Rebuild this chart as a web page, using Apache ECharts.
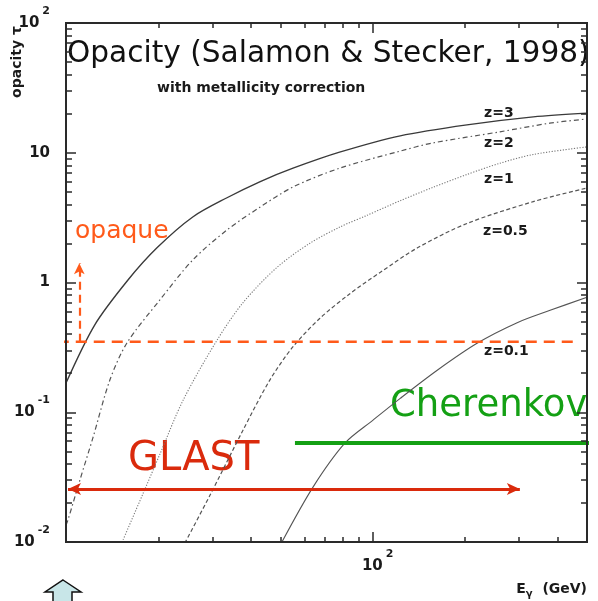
<!DOCTYPE html>
<html><head><meta charset="utf-8">
<script src="https://cdn.jsdelivr.net/npm/echarts@6/dist/echarts.min.js"></script>
<style>html,body{margin:0;padding:0;background:#fff}
#wrap{position:relative;width:598px;height:601px}
#c,#t{position:absolute;left:0;top:0;width:598px;height:601px}
#t{pointer-events:none}</style>
</head><body><div id="wrap"><div id="c"></div><div id="t"></div></div>
<script>
// ---- data (GeV, opacity tau) ----
const xRange = [10, 500];
const yRange = [0.01, 100];
const xLabelTicks = [100];
const xMajorTicks = [100];
const xMinorTicks = [20, 30, 40, 50, 60, 70, 80, 90, 200, 300, 400];
const yLabelTicks = [0.01, 0.1, 1, 10, 100];
const yMajorTicks = [0.01, 0.1, 1, 10, 100];
const yMinorTicks = [0.02,0.03,0.04,0.05,0.06,0.07,0.08,0.09, 0.2,0.3,0.4,0.5,0.6,0.7,0.8,0.9, 2,3,4,5,6,7,8,9, 20,30,40,50,60,70,80,90];

const energyZ3 = [10, 12.4, 15.9, 19.8, 25.9, 33.5, 43, 55, 78, 123, 203, 334, 500];
const tauZ3    = [0.168, 0.47, 1.04, 1.85, 3.2, 4.5, 6.0, 7.6, 10.1, 13.5, 16.4, 18.9, 20.2];
const energyZ2 = [10, 10.15, 11.1, 12.25, 13.9, 15.8, 20.2, 25.9, 33.5, 43, 55, 78, 123, 157, 260, 378, 500];
const tauZ2    = [0.0135, 0.0148, 0.030, 0.064, 0.177, 0.342, 0.73, 1.49, 2.54, 3.82, 5.45, 7.6, 10.3, 11.9, 14.5, 16.9, 18.2];
const energyZ1 = [15.35, 17.8, 20.2, 24.1, 31.1, 37.8, 48.8, 62.5, 78.3, 96, 123, 157, 203, 260, 334, 500];
const tauZ1    = [0.0104, 0.0234, 0.047, 0.124, 0.36, 0.70, 1.31, 2.01, 2.68, 3.3, 4.27, 5.4, 6.8, 8.3, 9.7, 11.1];
const energyZ05 = [24.4, 29.5, 37.8, 46.2, 55, 67.3, 84.3, 106, 140, 203, 334, 500];
const tauZ05    = [0.0098, 0.023, 0.073, 0.177, 0.32, 0.53, 0.82, 1.2, 1.85, 2.85, 4.2, 5.35];
const energyZ01 = [50.6, 63.9, 81.3, 100.3, 123, 162, 219, 296, 379, 500];
const tauZ01    = [0.01, 0.0265, 0.058, 0.087, 0.128, 0.21, 0.34, 0.49, 0.61, 0.77];

const opaqueTau = 0.35;
const opaqueLineE = [9.4, 468];
const opaqueArrowE = 11.05;
const opaqueArrowTau = [0.35, 1.41];
const glastE = [10.15, 302];
const glastTau = 0.0256;
const cherenkovE = [55.8, 543];
const cherenkovTau = 0.058;

// ---- helpers ----
const lg = Math.log10;
const pts = (E, T) => E.map((e, i) => [lg(e), lg(T[i])]);
const FONT = '"DejaVu Sans", sans-serif';
const AX = '#2a2a2a';
const ORANGE = '#ff5a1a';
const RED = '#da2a0c';
const GREEN = '#14a014';
const GRID = {left: 66, right: 11, top: 23, bottom: 59};

function fmtPow(v) {
  const e = Math.round(v);
  if (e === 0) return '{b|1}';
  if (e === 1) return '{b|10}';
  return '{b|10}{s|' + e + '}';
}
const rich = {
  b: {fontFamily: FONT, fontWeight: 'bold', fontSize: 15, lineHeight: 35, color: '#1a1a1a'},
  s: {fontFamily: FONT, fontWeight: 'bold', fontSize: 11, lineHeight: 11, verticalAlign: 'top', color: '#1a1a1a', padding: [0, 0, 0, 3]}
};

function labelAxis(dim, position, labels) {
  const r = dim === 'x' ? xRange : yRange;
  return {
    type: 'value', position: position, gridIndex: 0,
    min: lg(r[0]), max: lg(r[1]),
    axisLine: {show: true, onZero: false, lineStyle: {color: AX, width: 2}},
    axisTick: {show: false},
    axisLabel: labels ? {show: true, customValues: labels.map(lg), formatter: fmtPow, rich: rich,
      margin: dim === 'x' ? 7 : 16, padding: dim === 'x' ? [0, 0, 0, 10] : 0} : {show: false},
    splitLine: {show: false}
  };
}
function tickAxis(dim, position, ticks, len) {
  const r = dim === 'x' ? xRange : yRange;
  return {
    type: 'value', position: position, gridIndex: 0,
    min: lg(r[0]), max: lg(r[1]),
    axisLine: {show: true, onZero: false, lineStyle: {color: AX, width: 2}},
    axisTick: {show: true, inside: true, length: len, customValues: ticks.map(lg), lineStyle: {color: AX, width: 1.5}},
    axisLabel: {show: false},
    splitLine: {show: false}
  };
}

function curve(name, E, T, type, width, color) {
  return {type: 'line', name: name, data: pts(E, T), smooth: 0.3, symbol: 'none', showSymbol: false,
    lineStyle: {type: type, width: width, color: color}, z: 2, silent: true};
}

function txt(x, y, text, size, color, weight, align, extra) {
  return Object.assign({type: 'text', x: x, y: y, silent: true,
    style: {text: text, fontSize: size, fontFamily: FONT, fontWeight: weight || 'normal', fill: color,
      align: align || 'left', verticalAlign: 'middle'}}, extra || {});
}

// main chart: curves, annotations, labels
const chart = echarts.init(document.getElementById('c'));
chart.setOption({
  animation: false,
  backgroundColor: '#fff',
  grid: GRID,
  xAxis: [labelAxis('x', 'bottom', xLabelTicks), labelAxis('x', 'top')],
  yAxis: [labelAxis('y', 'left', yLabelTicks), labelAxis('y', 'right')],
  series: [
    curve('z=3', energyZ3, tauZ3, 'solid', 1.4, '#3a3a3a'),
    curve('z=2', energyZ2, tauZ2, [5, 3, 1.5, 3], 1.2, '#555'),
    curve('z=1', energyZ1, tauZ1, [1.2, 1.6], 1.1, '#777'),
    curve('z=0.5', energyZ05, tauZ05, [4, 2.5], 1.2, '#555'),
    curve('z=0.1', energyZ01, tauZ01, 'solid', 1.1, '#555'),
    {type: 'line', name: 'opaque', data: [[lg(opaqueLineE[0]), lg(opaqueTau)], [lg(opaqueLineE[1]), lg(opaqueTau)]],
      clip: false, symbol: 'none', silent: true, z: 5,
      lineStyle: {color: ORANGE, width: 2.5, type: [11, 7]}},
    {type: 'line', name: 'Cherenkov', data: [[lg(cherenkovE[0]), lg(cherenkovTau)], [lg(cherenkovE[1]), lg(cherenkovTau)]],
      clip: false, symbol: 'none', silent: true, z: 5,
      lineStyle: {color: GREEN, width: 4, type: 'solid'},
      markLine: {silent: true, animation: false, label: {show: false}, symbol: ['none', 'none'],
        emphasis: {disabled: true},
        data: [
          [
            {coord: [lg(glastE[0]), lg(glastTau)], symbol: 'arrow', symbolSize: [9, 13], lineStyle: {color: RED, width: 3, type: 'solid'}, itemStyle: {color: RED}},
            {coord: [lg(glastE[1]), lg(glastTau)], symbol: 'arrow', symbolSize: [9, 13], lineStyle: {color: RED, width: 3, type: 'solid'}, itemStyle: {color: RED}}
          ],
          [
            {coord: [lg(opaqueArrowE), lg(opaqueArrowTau[0])], symbol: 'none', lineStyle: {color: ORANGE, width: 2.2, type: [8, 5]}, itemStyle: {color: ORANGE}},
            {coord: [lg(opaqueArrowE), lg(opaqueArrowTau[1])], symbol: 'arrow', symbolSize: [8, 11], lineStyle: {color: ORANGE, width: 2.2, type: [8, 5]}, itemStyle: {color: ORANGE}}
          ]
        ]}
    }
  ],
  graphic: [
    txt(67, 54, 'Opacity (Salamon & Stecker, 1998)', 29.6, '#111'),
    txt(157, 88, 'with metallicity correction', 14, '#1a1a1a', 'bold'),
    txt(484, 113, 'z=3', 14, '#1a1a1a', 'bold'),
    txt(484, 143, 'z=2', 14, '#1a1a1a', 'bold'),
    txt(484, 179, 'z=1', 14, '#1a1a1a', 'bold'),
    txt(483, 231, 'z=0.5', 14, '#1a1a1a', 'bold'),
    txt(484, 351, 'z=0.1', 14, '#1a1a1a', 'bold'),
    txt(75, 231, 'opaque', 25, ORANGE),
    txt(128, 460, 'GLAST', 40, RED),
    txt(390, 406, 'Cherenkov', 37, GREEN),
    txt(17, 62, 'opacity τ', 14, '#1a1a1a', 'bold', 'center', {rotation: Math.PI / 2}),
    {type: 'text', x: 587, y: 589, silent: true, style: {
      text: '{a|E}{g|γ}{a|  (GeV)}', align: 'right', verticalAlign: 'middle',
      rich: {
        a: {fontFamily: FONT, fontWeight: 'bold', fontSize: 14, lineHeight: 20, fill: '#1a1a1a', color: '#1a1a1a'},
        g: {fontFamily: FONT, fontWeight: 'bold', fontSize: 10, lineHeight: 10, verticalAlign: 'bottom', fill: '#1a1a1a', color: '#1a1a1a'}
      }}},
    {type: 'polygon', silent: true,
      shape: {points: [[63, 580], [81, 592], [72, 592], [72, 606], [53, 606], [53, 592], [45, 592]]},
      style: {fill: '#c8e6e8', stroke: '#111', lineWidth: 1.5}}
  ]
});

// overlay instance with the same grid and scales: log-spaced tick marks on all four sides
const ticks = echarts.init(document.getElementById('t'));
ticks.setOption({
  animation: false,
  backgroundColor: 'transparent',
  grid: GRID,
  xAxis: [
    tickAxis('x', 'bottom', xMajorTicks, 10),
    tickAxis('x', 'bottom', xMinorTicks, 5),
    tickAxis('x', 'top', xMajorTicks, 10),
    tickAxis('x', 'top', xMinorTicks, 5)
  ],
  yAxis: [
    tickAxis('y', 'left', yMajorTicks, 10),
    tickAxis('y', 'left', yMinorTicks, 6),
    tickAxis('y', 'right', yMajorTicks, 10),
    tickAxis('y', 'right', yMinorTicks, 6)
  ],
  series: [{type: 'line', data: [], symbol: 'none', silent: true}]
});
</script>
</body></html>
